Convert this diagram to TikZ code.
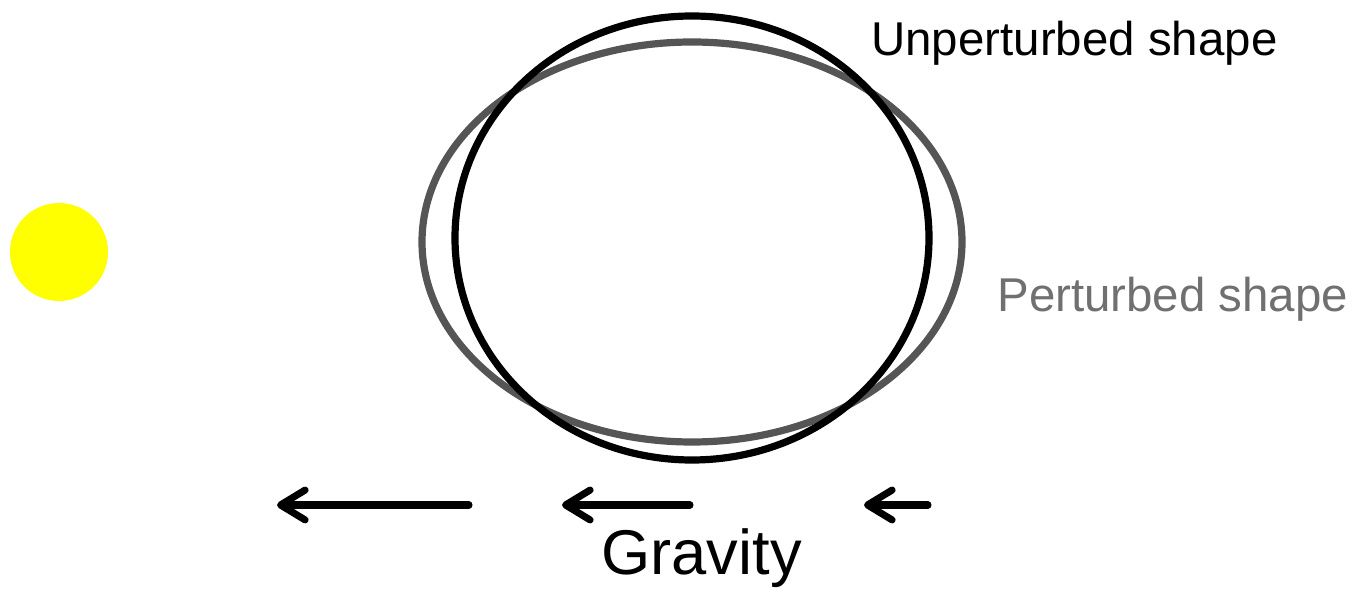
\documentclass[tikz,border=0pt]{standalone}
\usepackage{fontspec}
\setmainfont{Liberation Sans}
\usetikzlibrary{arrows.meta, positioning}

\definecolor{pertgray}{HTML}{555555}
\definecolor{labelgray}{HTML}{707070}
\definecolor{sunyellow}{HTML}{FFFF00}

\begin{document}
\begin{tikzpicture}[x=0.02cm, y=-0.02cm,
    shape line/.style={line width=4.1pt},
    pull/.style={line width=4pt, line cap=round, -{Straight Barb[length=14pt, width=17pt, line width=4pt, round]}},
    lbl/.style={inner sep=0pt, anchor=base west}
]
\useasboundingbox (0,0) rectangle (1353,590);
% star
\fill[sunyellow] (59,252) circle (49);
% shapes
\draw[shape line, pertgray] (692,242) ellipse (270 and 200);
\draw[shape line, black] (692,238) ellipse (237 and 222);
% labels
\node[lbl, font=\fontsize{27}{31}\selectfont] (unpert) at (871,56) {Unperturbed shape};
\node[lbl, font=\fontsize{27}{31}\selectfont, text=labelgray] (pert) at (997,312) {Perturbed shape};
\node[lbl, font=\fontsize{36}{42}\selectfont] (grav) at (601,575) {Gravity};
% tidal pull
\coordinate (a1s) at (469,505);
\coordinate (a1e) at (277,505);
\coordinate (a2s) at (690,505);
\coordinate (a2e) at (562,505);
\coordinate (a3s) at (928,505);
\coordinate (a3e) at (864,505);
\draw[pull] (a1s) -- (a1e);
\draw[pull] (a2s) -- (a2e);
\draw[pull] (a3s) -- (a3e);
\end{tikzpicture}
\end{document}
